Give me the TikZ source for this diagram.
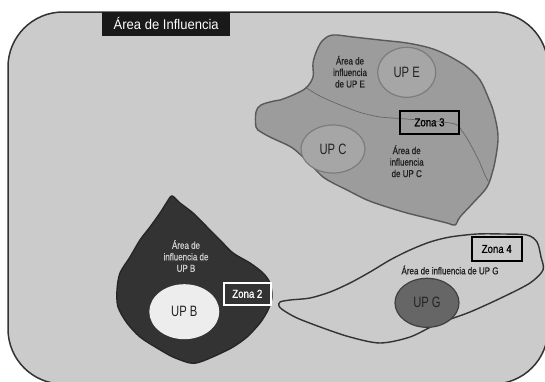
\documentclass[tikz,border=0pt]{standalone}
\usepackage{fontspec}
\usetikzlibrary{shapes.geometric}
\newfontfamily\titlef[FakeStretch=0.93]{Liberation Sans}
\newfontfamily\bigf[FakeStretch=0.75]{Liberation Sans}
\newfontfamily\smallf[FakeStretch=0.8,FakeBold=0.8]{Liberation Sans}
\newfontfamily\zonaf[FakeStretch=0.84,FakeBold=0.8]{Liberation Sans}
\definecolor{bgc}{HTML}{CBCBCB}
\definecolor{blobc}{HTML}{9C9C9C}
\definecolor{ellc}{HTML}{A6A6A6}
\definecolor{ellb}{HTML}{7C7C7C}
\definecolor{darkc}{HTML}{333333}
\definecolor{txtc}{HTML}{222222}
\tikzset{
  up/.style={ellipse, inner sep=0pt, font=\fontsize{15}{17}\bigf, text=txtc},
  lbl/.style={align=center, inner sep=0pt, font=\fontsize{10}{11.5}\smallf, text=txtc},
  zona/.style={draw, line width=1.8pt, inner sep=0pt, font=\fontsize{11.5}{13}\zonaf},
  blobline/.style={line width=1.4pt, draw=darkc}
}
\begin{document}
\begin{tikzpicture}[x=1pt,y=-1pt]
\useasboundingbox (0,0) rectangle (545,381);
\fill[white] (0,0) rectangle (545,381);
% outer area
\draw[fill=bgc, draw=darkc, line width=1.5pt, rounded corners=55pt] (8,12) rectangle (548,384);
% title
\node[fill=black!90, text=white, minimum width=128pt, minimum height=24pt, inner sep=0pt,
  font=\fontsize{14}{16}\titlef] (title) at (166.2,23.7) {Área de Influencia};
% top blob (UP E / UP C)
\draw[blobline, draw=black!65, fill=blobc] plot[smooth cycle, tension=0.55] coordinates {
 (256,127) (256,112) (261,105) (274,101) (280,100) (293,95) (306,88) (313,77) (313,63)
 (317,50) (323,40) (333,35) (353,37) (380,40) (407,43) (430,48) (447,55) (467,67)
 (480,80) (488,97) (493,110) (497,127) (498,140) (496,156) (493,170) (487,187) (473,203)
 (460,217) (455,225) (447,223) (427,218) (407,213) (387,207) (367,200) (347,190)
 (333,183) (323,177) (313,167) (303,157) (291,147) (272,138) (261,132)};
% divider
\draw[black!60, line width=0.7pt] plot[smooth, tension=0.55] coordinates {
 (305,87) (318,95) (333,102) (348,108) (362,113) (380,117) (400,118.5) (430,121)
 (455,124) (462,131) (468,140) (474,151) (480,163) (484,173) (488,181)};
\node[up, draw=ellb, line width=1.2pt, fill=ellc, minimum width=58pt, minimum height=50pt] (upe) at (406.7,72.3) {UP E};
\node[up, draw=ellb, line width=1.2pt, fill=ellc, minimum width=64pt, minimum height=48pt] (upc) at (333,149) {UP C};
\node[lbl] (le) at (350,71.7) {Área de\\influencia\\de UP E};
\node[lbl] (lc) at (406.7,161.3) {Área de\\influencia\\de UP C};
\node[zona, minimum width=59pt, minimum height=23.3pt] (z3) at (429.5,122.3) {Zona 3};
% dark blob (UP B)
\draw[blobline, draw=black!85, fill=darkc] plot[smooth cycle, tension=0.5] coordinates {
 (172,196) (180,203) (193,213) (207,227) (220,240) (233,253) (250,263) (263,273)
 (270,283) (272,297) (268,310) (260,323) (247,337) (233,347) (217,355) (200,362)
 (190,363) (173,357) (157,348) (140,337) (127,323) (118,307) (117,290) (120,273)
 (130,257) (140,240) (150,227) (160,213) (167,202)};
\node[up, fill=black!7, minimum width=70pt, minimum height=55pt] (upb) at (184.3,311.7) {UP B};
\node[lbl, text=black!20] (lb) at (186,256) {Área de\\influencia de\\UP B};
\node[zona, draw=white, text=white, minimum width=46.7pt, minimum height=22.3pt] (z2) at (247.3,293.8) {Zona 2};
% G area outline
\draw[blobline] plot[smooth cycle, tension=0.5] coordinates {
 (280,302) (290,300) (310,298) (330,292) (350,283) (370,272) (390,260) (410,250)
 (430,242) (450,237) (477,234) (503,234) (527,235) (537,242) (541,257) (543,270)
 (530,283) (503,297) (470,312) (437,324) (410,337) (380,343) (350,337) (323,328)
 (297,318) (283,310) (279,306)};
\node[up, draw=black!75, line width=1.2pt, fill=black!60, minimum width=64pt, minimum height=49pt] (upg) at (427,302.8) {UP G};
\node[lbl] (lg) at (450,270) {Área de influencia de UP G};
\node[zona, minimum width=50pt, minimum height=23.3pt] (z4) at (496.7,249) {Zona 4};
\end{tikzpicture}
\end{document}
